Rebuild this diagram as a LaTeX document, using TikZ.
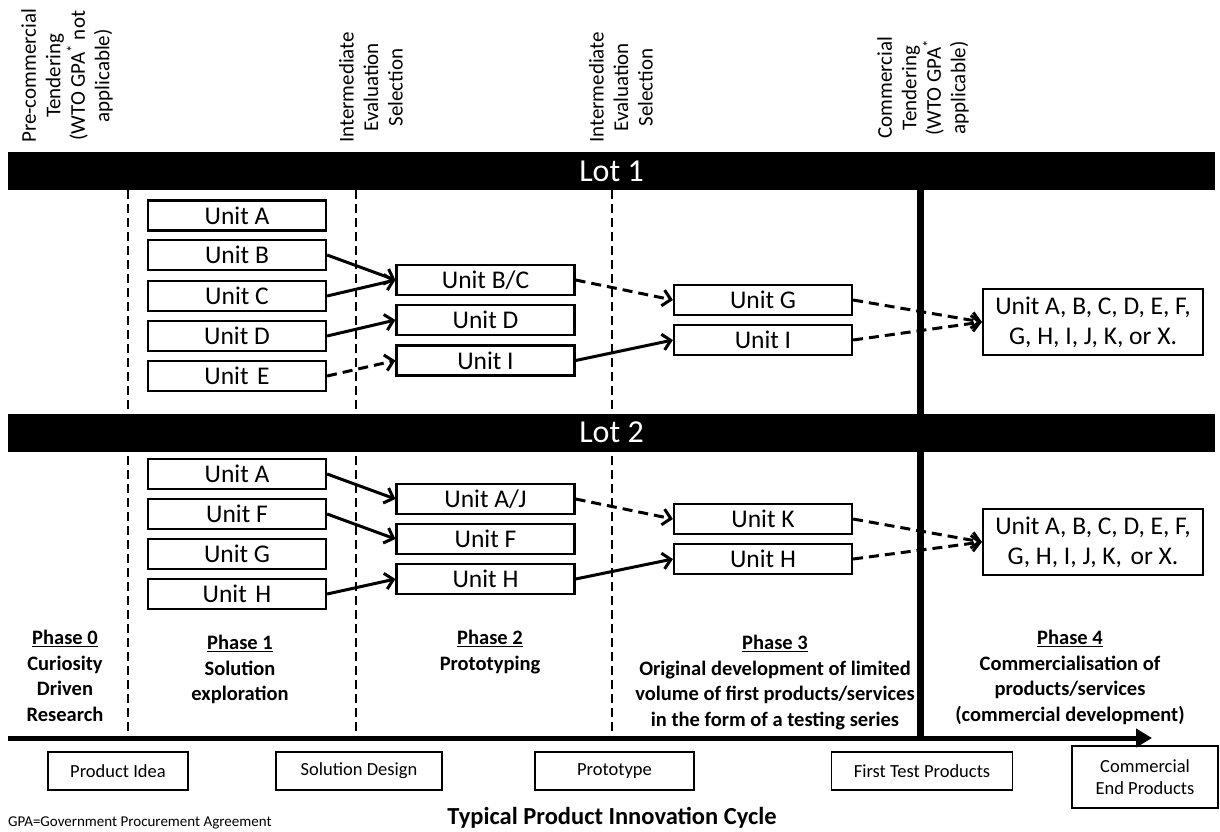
\documentclass[tikz,border=0pt]{standalone}
\usepackage{fontspec}
\setmainfont{Carlito}
\usepackage{tikz}
\usetikzlibrary{positioning, calc, arrows.meta}

\begin{document}
\begin{tikzpicture}[x=1pt, y=-1pt,
    >={Straight Barb[length=8pt, width=16pt]},
    unit/.style={draw, line width=2.2pt, minimum width=178pt, minimum height=30pt, inner sep=0pt, font=\fontsize{25.5}{27}\selectfont},
    pool/.style={draw, line width=2.2pt, minimum width=220pt, minimum height=66pt, inner sep=0pt, align=center, font=\fontsize{25.5}{30}\selectfont},
    lotbar/.style={fill=black, text=white, minimum width=1207pt, minimum height=38pt, inner sep=0pt, font=\fontsize{32}{34}\selectfont},
    sep/.style={line width=2.5pt, dash pattern=on 9pt off 5pt},
    link/.style={->, line width=3pt},
    dlink/.style={link, dash pattern=on 10pt off 6pt},
    gate/.style={rotate=90, anchor=west, align=center, inner sep=0pt, font=\fontsize{21}{24.5}\selectfont},
    phase/.style={anchor=north, align=center, inner sep=0pt, font=\bfseries\fontsize{20.5}{25.5}\selectfont},
    output/.style={draw, line width=1.3pt, minimum height=38pt, inner sep=0pt, align=center, font=\fontsize{18.5}{22}\selectfont}]
    \useasboundingbox (0,0) rectangle (1220,831);
    % gates
    \node[gate] (g0) at (67, 143)  {Pre-commercial\\Tendering\\(WTO GPA\textsuperscript{*} not\\applicable)};
    \node[gate] (g1) at (371, 143) {Intermediate\\Evaluation\\Selection};
    \node[gate] (g2) at (621, 143) {Intermediate\\Evaluation\\Selection};
    \node[gate] (g3) at (923, 139) {Commercial\\Tendering\\(WTO GPA\textsuperscript{*}\\applicable)};
    % phase borders
    \draw[sep] (128, 190) -- (128, 738);
    \draw[sep] (356, 190) -- (356, 738);
    \draw[sep] (612, 190) -- (612, 738);
    \draw[line width=7pt] (920, 190) -- (920, 738);
    \node[lotbar] (L1) at (611.5, 171) {Lot 1};
    \node[lotbar] (L2) at (611.5, 432.5) {Lot 2};
    % lot 1
    \node[unit] (A) at (237, 215.5) {Unit A};
    \node[unit] (B) at (237, 255)   {Unit B};
    \node[unit] (C) at (237, 296)   {Unit C};
    \node[unit] (D) at (237, 336)   {Unit D};
    \node[unit] (E) at (237, 376)   {Unit\,\,E};
    \node[unit] (BC) at (485.5, 280) {Unit B/C};
    \node[unit] (Dm) at (485.5, 320) {Unit D};
    \node[unit] (Im) at (485.5, 360.5) {Unit I};
    \node[unit] (G) at (763, 300)  {Unit G};
    \node[unit] (Ir) at (763, 340) {Unit I};
    \node[pool] (P1) at (1093, 322) {Unit A, B, C, D, E, F,\\G, H, I, J, K, or X.};
    \draw[link] (B.east) -- (BC.west);
    \draw[link] (C.east) -- (BC.west);
    \draw[link] (D.east) -- (Dm.west);
    \draw[dlink] (E.east) -- (Im.west);
    \draw[dlink] (BC.east) -- (G.west);
    \draw[link] (Im.east) -- (Ir.west);
    \draw[dlink] (G.east) -- (P1.west);
    \draw[dlink] (Ir.east) -- (P1.west);
    % lot 2
    \node[unit] (A2) at (237, 474) {Unit A};
    \node[unit] (F2) at (237, 514) {Unit F};
    \node[unit] (G2) at (237, 554) {Unit G};
    \node[unit] (H2) at (237, 594) {Unit\,\,H};
    \node[unit] (AJ) at (485.5, 499) {Unit A/J};
    \node[unit] (Fm) at (485.5, 539) {Unit F};
    \node[unit] (Hm) at (485.5, 579) {Unit H};
    \node[unit] (K) at (763, 519)  {Unit K};
    \node[unit] (Hr) at (763, 559) {Unit H};
    \node[pool] (P2) at (1093, 542) {Unit A, B, C, D, E, F,\\G, H, I, J, K,\,\,or X.};
    \draw[link] (A2.east) -- (AJ.west);
    \draw[link] (F2.east) -- (Fm.west);
    \draw[link] (H2.east) -- (Hm.west);
    \draw[dlink] (AJ.east) -- (K.west);
    \draw[link] (Hm.east) -- (Hr.west);
    \draw[dlink] (K.east) -- (P2.west);
    \draw[dlink] (Hr.east) -- (P2.west);
    % phases
    \node[phase] (ph0) at (65, 630)   {\underline{Phase 0}\\Curiosity\\Driven\\Research};
    \node[phase] (ph1) at (240, 635)  {\underline{Phase 1}\\Solution\\exploration};
    \node[phase] (ph2) at (490, 630)  {\underline{Phase 2}\\Prototyping};
    \node[phase] (ph3) at (775, 635)  {\underline{Phase 3}\\Original development of limited\\volume of first products/services\\in the form of a testing series};
    \node[phase] (ph4) at (1070, 630) {\underline{Phase 4}\\Commercialisation of\\products/services\\(commercial development)};
    % time axis
    \coordinate (t0) at (8, 738);
    \coordinate (t1) at (1152, 738);
    \draw[line width=5pt, -{Triangle[length=16pt, width=18pt]}] (t0) -- (t1);
    \node[output, minimum width=140pt] (o0) at (118, 771)   {Product Idea};
    \node[output, minimum width=166pt] (o1) at (359, 771)   {Solution Design};
    \node[output, minimum width=159pt] (o2) at (614.5, 771) {Prototype};
    \node[output, minimum width=181pt] (o3) at (922, 771)   {First Test Products};
    \node[output, minimum width=146pt, minimum height=62pt] (o4) at (1145, 777) {Commercial\\End Products};
    \node[font=\bfseries\fontsize{24.5}{27}\selectfont] (cyc) at (612, 818) {Typical Product Innovation Cycle};
    \node[anchor=west, inner sep=0pt, font=\fontsize{15}{18}\selectfont] (gpa) at (8, 823) {GPA=Government Procurement Agreement};
\end{tikzpicture}
\end{document}
